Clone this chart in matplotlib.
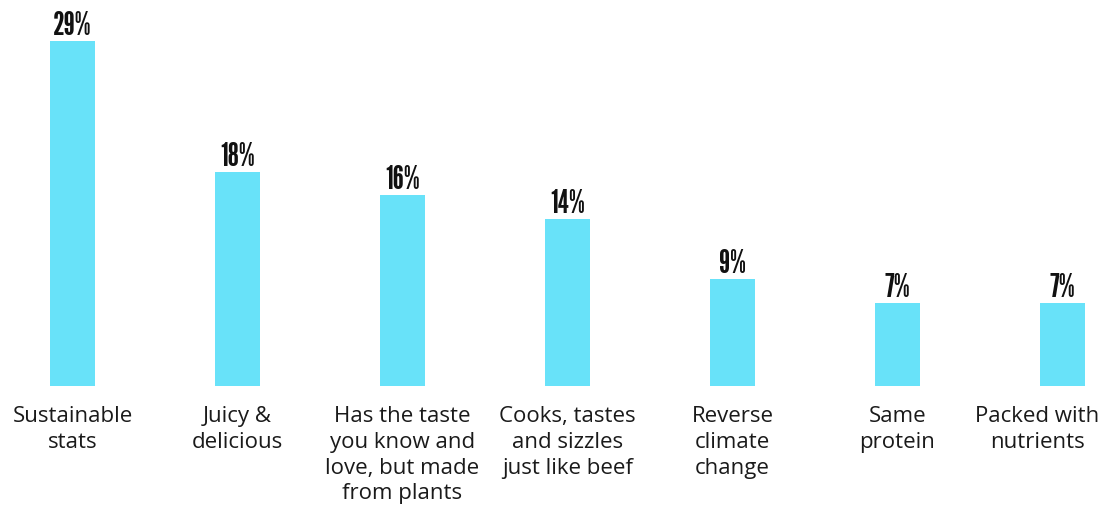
import matplotlib
matplotlib.use("Agg")
import matplotlib.pyplot as plt
import matplotlib.transforms as mtrans
from matplotlib import font_manager
from matplotlib.transforms import offset_copy

categories = ["Sustainable\nstats", "Juicy &\ndelicious",
              "Has the taste\nyou know and\nlove, but made\nfrom plants",
              "Cooks, tastes\nand sizzles\njust like beef",
              "Reverse\nclimate\nchange", "Same\nprotein", "Packed with\nnutrients"]
values = [29, 18, 16, 14, 9, 7, 7]
value_labels = ["29%", "18%", "16%", "14%", "9%", "7%", "7%"]

names = {f.name for f in font_manager.fontManager.ttflist}
num_family = next((c for c in ["League Gothic", "Antonio", "Anton"] if c in names),
                  "DejaVu Sans")
lab_family = ["Open Sans", "DejaVu Sans"]

fig = plt.figure(figsize=(11.06, 5.10), dpi=100)
ax = fig.add_axes([0, 123/510, 1, 387/510])
x = list(range(len(values)))
ax.bar(x, values, width=0.27, color="#68E2F9")
ax.set_xlim(-0.4394, 6.2636)
ax.set_ylim(0, 32.5)
ax.axis("off")

for i, (v, lab) in enumerate(zip(values, value_labels)):
    t = offset_copy(ax.transData, fig=fig, x=0, y=7, units="dots")
    ax.text(i, v, lab, transform=t, ha="center", va="baseline",
            fontsize=23, fontweight="bold", family=num_family, color="#111111")

label_dx = [0, 0, 0, 0, 0, 0, -25]
for i, c in enumerate(categories):
    tr = mtrans.blended_transform_factory(ax.transData, ax.transAxes)
    tr = offset_copy(tr, fig=fig, x=label_dx[i], y=-19, units="dots")
    ax.text(i, 0, c, transform=tr, ha="center", va="top", fontsize=16,
            family=lab_family, color="#1a1a1a", linespacing=1.3)

fig.savefig("out.png", dpi=100)
